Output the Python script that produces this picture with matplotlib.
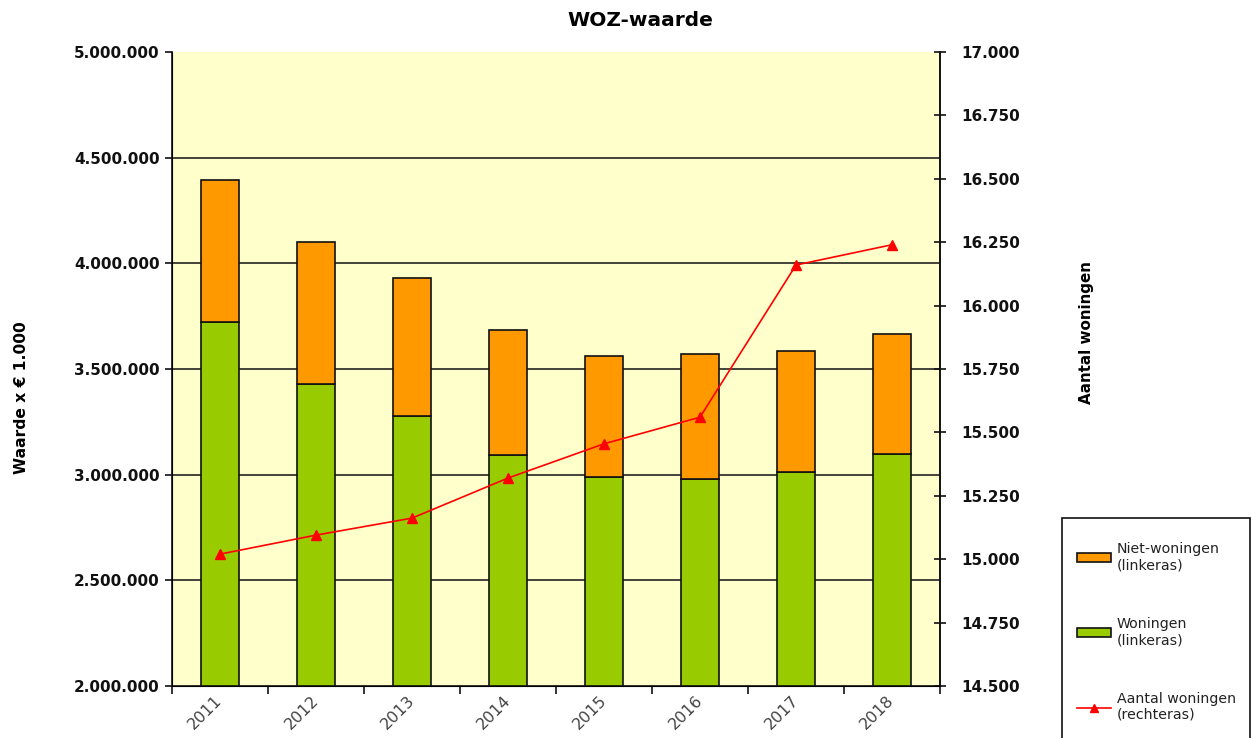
import matplotlib
matplotlib.use("Agg")
import matplotlib.pyplot as plt
from matplotlib.patches import Patch, Rectangle
from matplotlib.lines import Line2D
from matplotlib.ticker import FuncFormatter, MultipleLocator, FixedLocator

years = ["2011", "2012", "2013", "2014", "2015", "2016", "2017", "2018"]
woningen = [3722000, 3429000, 3277000, 3093000, 2989000, 2979000, 3012000, 3098000]
totaal = [4394000, 4101000, 3930000, 3684000, 3561000, 3571000, 3585000, 3665000]
niet_woningen = [t - w for t, w in zip(totaal, woningen)]
aantal = [15020, 15095, 15162, 15320, 15455, 15560, 16160, 16240]

W, H = 1252, 738
fig = plt.figure(figsize=(W / 100, H / 100), dpi=100)
ax = fig.add_axes([172/W, 1-686/H, (940-172)/W, (686-52)/H])
ax.set_facecolor("#FFFFCC")
x = list(range(len(years)))

for y in [2500000, 3000000, 3500000, 4000000, 4500000]:
    ax.axhline(y, color="#222222", lw=1.2, zorder=1)

ax.bar(x, woningen, width=0.4, bottom=0, color="#99CC00", edgecolor="#111111", lw=1.2, zorder=2)
ax.bar(x, niet_woningen, width=0.4, bottom=woningen, color="#FF9900", edgecolor="#111111", lw=1.2, zorder=2)
ax.set_ylim(2000000, 5000000)
ax.set_xlim(-0.5, len(years) - 0.5)
ax.yaxis.set_major_locator(MultipleLocator(500000))
fmt = FuncFormatter(lambda v, p: f"{v:,.0f}".replace(",", "."))
ax.yaxis.set_major_formatter(fmt)
for lab in ax.get_yticklabels():
    lab.set_fontweight("bold")
ax.tick_params(axis="y", labelsize=11, length=5, width=1.2, direction="out", colors="#111111", pad=4)

ax.xaxis.set_major_locator(FixedLocator([i - 0.5 for i in range(len(years) + 1)]))
ax.xaxis.set_minor_locator(FixedLocator(x))
ax.set_xticklabels([], minor=False)
ax.set_xticks(x, minor=True)
ax.set_xticklabels(years, minor=True, rotation=45, ha="right", va="center",
                   rotation_mode="anchor", fontsize=11.5)
ax.tick_params(axis="x", which="major", length=6, width=1.2, direction="out", colors="#111111")
ax.tick_params(axis="x", which="minor", length=0, pad=9)
for lab in ax.get_xticklabels(minor=True):
    lab.set_color("#444444")

ax.spines["top"].set_visible(False)
for s in ["left", "right", "bottom"]:
    ax.spines[s].set_linewidth(1.2)
    ax.spines[s].set_color("#111111")

ax2 = ax.twinx()
ax2.plot(x, aantal, color="#FF0000", lw=1.2, marker="^", markersize=7, zorder=3)
ax2.set_ylim(14500, 17000)
ax2.yaxis.set_major_locator(MultipleLocator(250))
ax2.yaxis.set_major_formatter(fmt)
for lab in ax2.get_yticklabels():
    lab.set_fontweight("bold")
ax2.tick_params(axis="y", labelsize=11, length=8, width=1.2, direction="inout", colors="#111111", pad=11)
ax2.spines["top"].set_visible(False)
ax2.spines["right"].set_linewidth(1.2)
ax2.spines["right"].set_color("#111111")

fig.text(640/W, 1-20/H, "WOZ-waarde", ha="center", va="center", fontsize=14.5, fontweight="bold")
fig.text(22/W, 1-398/H, "Waarde x \u20ac 1.000", ha="center", va="center", rotation=90,
         fontsize=11.2, fontweight="bold")
fig.text(1087/W, 1-333/H, "Aantal woningen", ha="center", va="center", rotation=90,
         fontsize=10.9, fontweight="bold")

# legend frame
fig.patches.append(Rectangle((1062/W, -0.05), (1250-1062)/W, (1-518/H) + 0.05,
                             transform=fig.transFigure, facecolor="white",
                             edgecolor="#111111", lw=1.2, zorder=0))

handles = [
    Patch(facecolor="#FF9900", edgecolor="#111111", lw=1.2),
    Patch(facecolor="#99CC00", edgecolor="#111111", lw=1.2),
    Line2D([0], [0], color="#FF0000", lw=1.2, marker="^", markersize=6),
]
labels = ["Niet-woningen\n(linkeras)", "Woningen\n(linkeras)", "Aantal woningen\n(rechteras)"]
leg = fig.legend(handles, labels, loc="upper left", bbox_to_anchor=(1077/W, 1-542/H),
                 fontsize=10.2, frameon=False,
                 labelspacing=3.15, handlelength=2.4, handleheight=0.6, handletextpad=0.4,
                 borderpad=0, borderaxespad=0)
for t in leg.get_texts():
    t.set_color("#222222")

fig.savefig("out.png", dpi=100)
